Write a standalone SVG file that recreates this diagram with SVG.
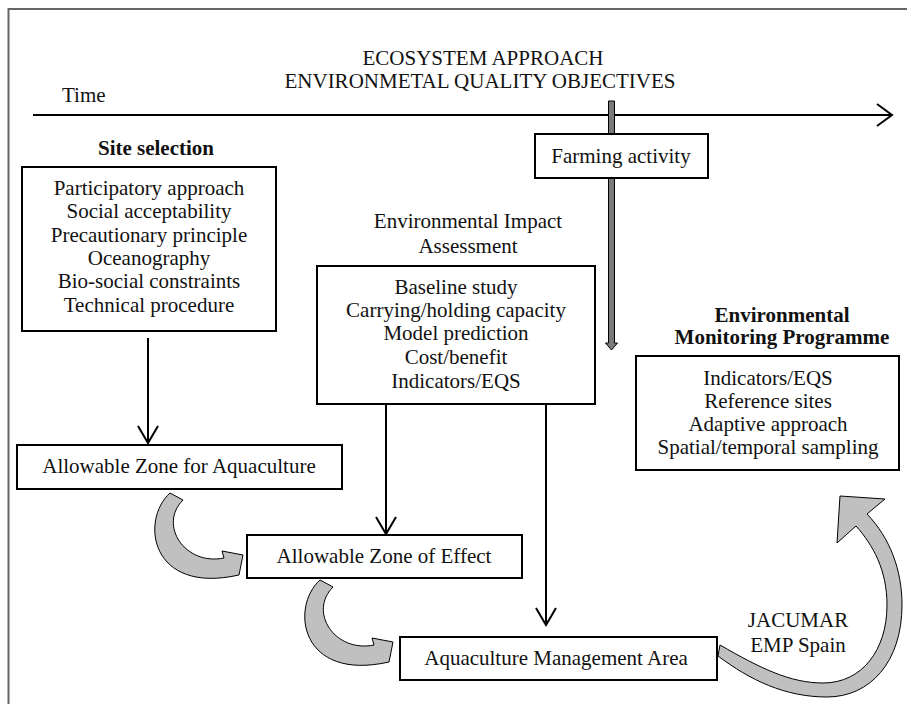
<svg xmlns="http://www.w3.org/2000/svg" width="907" height="704" viewBox="0 0 907 704">
<style>
text{font-family:"Liberation Serif","Times New Roman",serif;font-size:21px;fill:#111;text-anchor:middle}
.b{font-weight:bold}
.box{fill:#fff;stroke:#000;stroke-width:2}
.ln{fill:none;stroke:#000;stroke-width:2}
.gray{fill:#c0c0c0;stroke:#000;stroke-width:1}
</style>
<defs>
<path id="curl" d="M170,493 C140,520 150,595 239,575 L243,555 L222,551 L224,558 C185,566 158,525 183,500 Z"/>
</defs>
<rect width="907" height="704" fill="#fff"/>
<g id="frame"><path d="M8.5,704 V9 H907" fill="none" stroke="#666" stroke-width="2"/></g>
<g id="title">
<text x="483" y="65">ECOSYSTEM APPROACH</text>
<text x="480" y="88">ENVIRONMETAL QUALITY OBJECTIVES</text>
</g>
<g id="timeline">
<text x="62" y="102" style="text-anchor:start">Time</text>
<path class="ln" d="M33,115 H891 M877,104 L892,115 L877,126"/>
</g>
<g id="farming-arrow">
<path d="M608.5,101 H614.5 V343 H617.5 L611.5,350 L605.5,343 H608.5 Z" fill="#7a7a7a" stroke="#000" stroke-width="1"/>
</g>
<g id="farming">
<rect class="box" x="535" y="134" width="173" height="44"/>
<text x="621" y="163">Farming activity</text>
</g>
<g id="site-selection">
<text class="b" x="156" y="155">Site selection</text>
<rect class="box" x="22" y="167" width="254" height="164"/>
<text x="149" y="195">Participatory approach</text>
<text x="149" y="218">Social acceptability</text>
<text x="149" y="242">Precautionary principle</text>
<text x="149" y="265">Oceanography</text>
<text x="149" y="288">Bio-social constraints</text>
<text x="149" y="312">Technical procedure</text>
</g>
<g id="eia">
<text x="468" y="228">Environmental Impact</text>
<text x="468" y="253">Assessment</text>
<rect class="box" x="317" y="266" width="278" height="138"/>
<text x="456" y="294">Baseline study</text>
<text x="456" y="317">Carrying/holding capacity</text>
<text x="456" y="340">Model prediction</text>
<text x="456" y="364">Cost/benefit</text>
<text x="456" y="388">Indicators/EQS</text>
</g>
<g id="emp">
<text class="b" x="782" y="322">Environmental</text>
<text class="b" x="782" y="344">Monitoring Programme</text>
<rect class="box" x="636" y="356" width="263" height="114"/>
<text x="768" y="385">Indicators/EQS</text>
<text x="768" y="408">Reference sites</text>
<text x="768" y="431">Adaptive approach</text>
<text x="768" y="454">Spatial/temporal sampling</text>
</g>
<g id="aza">
<rect class="box" x="17" y="445" width="325" height="44"/>
<text x="179" y="473">Allowable Zone for Aquaculture</text>
</g>
<g id="aze">
<rect class="box" x="247" y="535" width="275" height="43"/>
<text x="384" y="563">Allowable Zone of Effect</text>
</g>
<g id="ama">
<rect class="box" x="400" y="637" width="317" height="43"/>
<text x="556" y="665">Aquaculture Management Area</text>
</g>
<g id="jacumar">
<text x="798" y="627">JACUMAR</text>
<text x="798" y="652">EMP Spain</text>
</g>
<g id="connectors">
<path class="ln" d="M148,338 V443 M138,426 L148,443 L158,426"/>
<path class="ln" d="M386,404 V534 M376,517 L386,534 L396,517"/>
<path class="ln" d="M546,404 V625 M536,608 L546,625 L556,608"/>
<use href="#curl" class="gray"/>
<use href="#curl" class="gray" transform="translate(150,87)"/>
<path class="gray" d="M720,645 C760,668 790,683 823,683 C862,683 887,650 887,605 C887,570 873,545 856,526 L837,543 L840,496 L885,499 L867,514 C890,538 902,570 902,605 C902,662 870,697 827,697 C785,697 750,680 718,656 Z"/>
</g>
</svg>
